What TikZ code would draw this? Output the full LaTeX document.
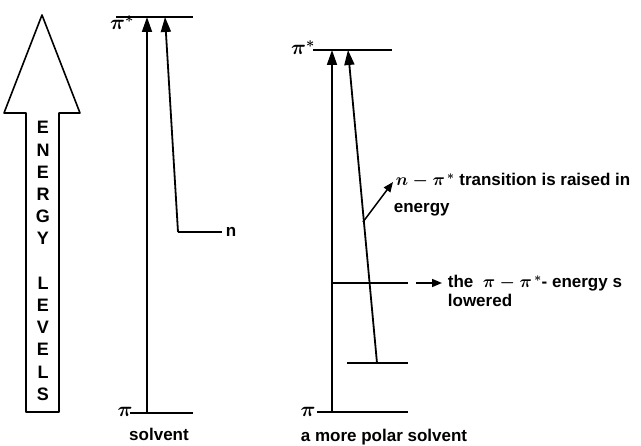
\documentclass[tikz,border=0pt]{standalone}
\usepackage{fontspec}
\setmainfont{Liberation Sans}
\usetikzlibrary{arrows.meta}
\begin{document}
\begin{tikzpicture}[x=1pt,y=-1pt,line width=1.8pt,
  lvl/.style={line width=1.8pt},
  tr/.style={-{Triangle[length=15pt,width=10pt]}},
  ann/.style={-{Triangle[length=10pt,width=8pt]}},
  lbl/.style={font=\fontsize{17}{19}\selectfont\bfseries\boldmath,inner sep=0pt},
  sml/.style={font=\fontsize{22}{24}\selectfont\bfseries\boldmath,inner sep=0pt},
  ]
\useasboundingbox (0,0) rectangle (641,446);
% big energy arrow
\draw[line width=1.6pt,line join=round] (26,412) -- (26,113) -- (4,113) -- (42,15) -- (80,113) -- (59,113) -- (59,412) -- cycle;
\node[font=\fontsize{18}{22.2}\selectfont\bfseries,align=center,inner sep=0pt] (elev) at (43,261)
  {E\\N\\E\\R\\G\\Y\\[22.2pt]L\\E\\V\\E\\L\\S};
% left diagram: solvent
\coordinate (Ls1) at (116,17); \coordinate (Ls2) at (193,17);
\coordinate (Lp1) at (130,413); \coordinate (Lp2) at (193,413);
\coordinate (Ln1) at (178,232); \coordinate (Ln2) at (222,232);
\coordinate (LaB) at (147,413); \coordinate (LaT) at (147,17);
\coordinate (LbT) at (165,17);
\draw[lvl] (Ls1) -- (Ls2);
\draw[lvl] (Lp1) -- (Lp2);
\draw[lvl] (Ln1) -- (Ln2);
\draw[tr] (LaB) -- (LaT);
\draw[tr] (Ln1) -- (LbT);
\node[sml,anchor=base] (lps) at (122,30) {$\pi^*$};
\node[sml,anchor=base] (lp) at (125,417) {$\pi$};
\node[lbl,anchor=west] (lnl) at (225,232) {n};
\node[lbl,anchor=base] (lsolv) at (159,441) {solvent};
% right diagram: more polar solvent
\coordinate (Rs1) at (313,50); \coordinate (Rs2) at (392,50);
\coordinate (Rp1) at (317,412); \coordinate (Rp2) at (408,412);
\coordinate (Rn1) at (347,363); \coordinate (Rn2) at (408,363);
\coordinate (RnS) at (377,363);
\coordinate (RaB) at (332,412); \coordinate (RaT) at (332,50);
\coordinate (RbT) at (348,50);
\coordinate (Rm1) at (332,283); \coordinate (Rm2) at (408,283);
\draw[lvl] (Rs1) -- (Rs2);
\draw[lvl] (Rp1) -- (Rp2);
\draw[lvl] (Rn1) -- (Rn2);
\draw[lvl] (Rm1) -- (Rm2);
\draw[tr] (RaB) -- (RaT);
\draw[tr] (RnS) -- (RbT);
\node[sml,anchor=base] (rps) at (303,55) {$\pi^*$};
\node[sml,anchor=base] (rp) at (308,417) {$\pi$};
% annotations
\coordinate (A1s) at (363,222); \coordinate (A1e) at (393,182);
\draw[ann,line width=1.5pt] (A1s) -- (A1e);
\node[lbl,anchor=base west] (t1) at (395,186) {$n-\pi^{\,*}$ transition is raised in};
\node[lbl,anchor=base west] (t2) at (393,213) {energy};
\coordinate (A2s) at (416,283); \coordinate (A2e) at (442,283);
\draw[ann,line width=1.5pt] (A2s) -- (A2e);
\node[lbl,anchor=base west] (t3) at (447,288) {the\ \ $\pi-\pi^{\,*}$- energy s};
\node[lbl,anchor=base west] (t4) at (447,307) {lowered};
\node[lbl,anchor=base] (rsolv) at (384,442) {a more polar solvent};
\end{tikzpicture}
\end{document}
